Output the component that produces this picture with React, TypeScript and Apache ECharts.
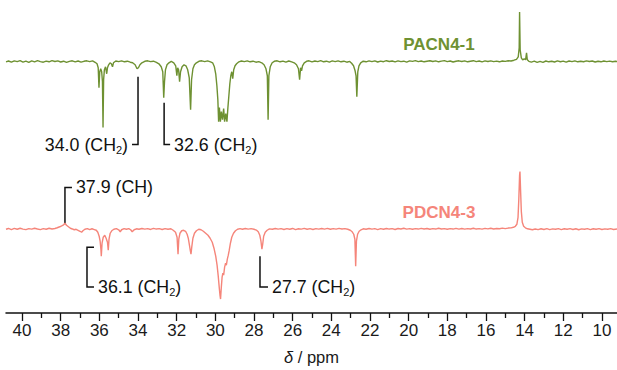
import React, { useEffect, useRef } from "react";
import * as echarts from "echarts";

// ---- data (ppm, intensity relative to each trace's baseline) ----
const pacnTrace: [number, number][] = [
  [40.83, 0], [40.7, 0.8], [40.55, -0.4], [40.4, 1], [40.25, 0.2], [40.1, 1.2], [39.95, -0.3], [39.8, 0.6],
  [39.65, -0.5], [39.5, 0.9], [39.35, 0], [39.2, 1.1], [39.05, 0.2], [38.9, -0.4], [38.75, 0.7], [38.6, 0],
  [38.45, 1.2], [38.3, 0.3], [38.15, 0.9], [38.0, -0.2], [37.85, 0.6], [37.7, -0.6], [37.55, 0.4], [37.4, 1],
  [37.25, 0], [37.1, 0.8], [36.95, -0.3], [36.8, 0.5], [36.65, 1], [36.5, 0.2], [36.35, 0.9], [36.22, -0.5],
  [36.12, -2], [36.06, -6], [36.02, -26], [35.98, -10], [35.93, -7], [35.88, -10], [35.84, -20], [35.81, -66],
  [35.78, -18], [35.74, -8], [35.68, -5], [35.62, -12], [35.58, -6], [35.52, -3], [35.45, -1], [35.38, -2],
  [35.32, -5], [35.27, -1], [35.15, 0.8], [35.0, 0.2], [34.85, 1], [34.7, 0], [34.55, 0.6], [34.4, -0.4],
  [34.28, -1], [34.15, -3], [34.05, -7], [33.98, -6], [33.9, -3], [33.8, -1], [33.65, 0.5], [33.5, 1],
  [33.35, 0.2], [33.2, 0.6], [33.05, -0.5], [32.92, -2], [32.8, -5], [32.72, -10], [32.67, -36], [32.63, -20],
  [32.58, -8], [32.5, -3], [32.4, -1], [32.28, 0.4], [32.15, -1], [32.05, -4], [31.99, -14], [31.95, -6],
  [31.9, -8], [31.85, -20], [31.8, -10], [31.72, -5], [31.62, -3], [31.52, -4], [31.43, -8], [31.35, -16],
  [31.28, -48], [31.23, -18], [31.16, -7], [31.08, -3], [30.98, -1], [30.85, 0.5], [30.7, 1], [30.55, 0.2],
  [30.4, 0.9], [30.25, 0], [30.14, -1], [30.05, -5], [29.98, -12], [29.92, -24], [29.87, -38], [29.83, -60],
  [29.79, -46], [29.74, -60], [29.69, -50], [29.63, -58], [29.57, -47], [29.52, -60], [29.46, -52], [29.4, -60],
  [29.35, -46], [29.3, -34], [29.25, -22], [29.2, -14], [29.15, -10], [29.1, -17], [29.05, -8], [28.98, -4],
  [28.9, -2], [28.78, 0], [28.65, 0.8], [28.5, 0.2], [28.35, 1], [28.2, 0], [28.05, 0.6], [27.9, -0.4],
  [27.75, 0.2], [27.6, -1], [27.48, -3], [27.38, -7], [27.31, -14], [27.27, -58], [27.23, -14], [27.16, -5],
  [27.06, -1], [26.95, 0.5], [26.8, 1], [26.65, 0], [26.5, 0.7], [26.35, -0.3], [26.2, 0.8], [26.05, 0],
  [25.92, -1], [25.8, -3], [25.7, -7], [25.64, -18], [25.59, -6], [25.54, -9], [25.49, -4], [25.4, -1],
  [25.28, 0.5], [25.15, 1], [25.0, 0], [24.85, 0.8], [24.7, 0.2], [24.55, 1.1], [24.4, 0], [24.25, 0.6],
  [24.1, -0.3], [23.95, 0.9], [23.8, 0.2], [23.65, 1], [23.5, 0], [23.35, 0.6], [23.2, -0.4], [23.05, 0.4],
  [22.95, -1.5], [22.85, -4], [22.77, -9], [22.72, -14], [22.68, -35], [22.63, -10], [22.57, -4], [22.48, -1],
  [22.35, 0.6], [22.2, 0], [22.05, 0.9], [21.9, 0.2], [21.75, 1], [21.6, -0.2], [21.45, 0.7], [21.3, 0.1],
  [21.15, 1.1], [21.0, 0.3], [20.85, 0.8], [20.7, 0], [20.55, 1], [20.4, 0.2], [20.25, 0.6], [20.1, -0.3],
  [19.95, 0.9], [19.8, 0.4], [19.65, 1.2], [19.5, 0.2], [19.35, 0.8], [19.2, 0], [19.05, 0.6], [18.9, 1.1],
  [18.75, 0.3], [18.6, 0.9], [18.45, 0], [18.3, 0.7], [18.15, 1.2], [18.0, 0.2], [17.85, 0.8], [17.7, -0.2],
  [17.55, 0.6], [17.4, 1], [17.25, 0.3], [17.1, 0.9], [16.95, 0], [16.8, 0.6], [16.65, 1.1], [16.5, 0.2],
  [16.35, 0.8], [16.2, 0], [16.05, 0.9], [15.9, 0.3], [15.75, 1], [15.6, 0.2], [15.45, 0.7], [15.3, 0],
  [15.15, 0.8], [15.0, 0.4], [14.85, 1], [14.7, 0.8], [14.55, 1.6], [14.42, 2.5], [14.33, 5], [14.28, 14],
  [14.26, 50], [14.23, 12], [14.17, 4], [14.1, 2], [14.02, 3], [13.95, 2], [13.9, 9], [13.86, 2],
  [13.78, 0.5], [13.65, -0.3], [13.5, 0.6], [13.35, -0.6], [13.2, 0.4], [13.05, -0.5], [12.9, 0.8], [12.75, 0],
  [12.6, 0.6], [12.45, -0.2], [12.3, 0.9], [12.15, 0.1], [12.0, 0.7], [11.85, -0.3], [11.7, 0.8], [11.55, 0.2],
  [11.4, 1], [11.25, 0], [11.1, 0.6], [10.95, 0.1], [10.8, 0.9], [10.65, 0.3], [10.5, 0.8], [10.35, -0.2],
  [10.2, 0.6], [10.05, 0], [9.9, 0.8], [9.75, 0.2], [9.6, 0.7], [9.45, 0], [9.3, 0.5], [9.22, 0.3],
];

const pdcnTrace: [number, number][] = [
  [40.83, 0], [40.7, 0.8], [40.55, -0.3], [40.4, 0.9], [40.25, 0], [40.1, 1], [39.95, 0.2], [39.8, -0.4],
  [39.65, 0.7], [39.5, 0.1], [39.35, 1], [39.2, 0.3], [39.05, -0.3], [38.9, 0.6], [38.75, 0], [38.6, 1],
  [38.45, 0.3], [38.3, 0.8], [38.18, 1.5], [38.05, 2.5], [37.95, 3.5], [37.85, 4.5], [37.78, 6], [37.7, 4],
  [37.6, 2.5], [37.5, 1], [37.4, 0.3], [37.3, -0.5], [37.2, 0], [37.1, -1], [37.0, -2], [36.92, -3],
  [36.85, -1.5], [36.75, 0], [36.62, 0.6], [36.5, -0.4], [36.38, 0.5], [36.26, -0.3], [36.16, -1], [36.08, -3],
  [36.01, -7], [35.96, -12], [35.92, -20], [35.9, -27], [35.86, -14], [35.8, -8], [35.72, -6], [35.65, -9],
  [35.58, -13], [35.54, -21], [35.5, -10], [35.44, -4], [35.36, -1.5], [35.25, 0], [35.12, 0.6], [35.0, -0.5],
  [34.92, -2.5], [34.85, -0.5], [34.72, 0.6], [34.6, 0], [34.48, 0.7], [34.38, -0.5], [34.3, -2.5], [34.2, -0.5],
  [34.08, 0.5], [33.95, 0], [33.8, 0.8], [33.65, 0.1], [33.5, 0.7], [33.35, -0.2], [33.2, 0.9], [33.05, 0.2],
  [32.9, 0.6], [32.75, -0.2], [32.6, 0.7], [32.45, 0], [32.3, 0.5], [32.18, -1], [32.06, -3], [31.98, -8],
  [31.93, -25], [31.89, -10], [31.83, -4], [31.74, -1.5], [31.64, -1], [31.54, -2], [31.46, -5], [31.4, -9],
  [31.34, -16], [31.29, -22], [31.26, -25], [31.22, -18], [31.16, -9], [31.08, -4], [30.98, -1.5], [30.86, 0],
  [30.74, -0.5], [30.62, -2], [30.5, -4], [30.38, -6], [30.27, -9], [30.16, -13], [30.07, -19], [29.98, -27],
  [29.91, -36], [29.85, -47], [29.8, -58], [29.76, -66], [29.73, -70], [29.69, -58], [29.65, -48], [29.61, -44],
  [29.57, -46], [29.52, -38], [29.47, -34], [29.43, -36], [29.38, -30], [29.33, -26], [29.28, -21], [29.22, -14],
  [29.15, -8], [29.06, -4], [28.96, -1.5], [28.85, 0], [28.72, 0.6], [28.6, 0], [28.45, 0.8], [28.3, 0.1],
  [28.15, 0.6], [28.0, 0], [27.88, -0.8], [27.78, -2.5], [27.7, -6], [27.64, -12], [27.59, -20], [27.55, -15],
  [27.5, -7], [27.42, -3], [27.32, -1], [27.2, 0.4], [27.05, 0], [26.9, 0.8], [26.75, 0.1], [26.6, 0.7],
  [26.45, -0.2], [26.3, 0.6], [26.15, 0], [26.0, 0.8], [25.85, -0.3], [25.7, 0.5], [25.55, 0.1], [25.4, 0.9],
  [25.25, 0], [25.1, 0.6], [24.95, -0.2], [24.8, 0.7], [24.65, 0.1], [24.5, 0.8], [24.35, 0.2], [24.2, 0.9],
  [24.05, 0], [23.9, 0.6], [23.75, 0.1], [23.6, 0.9], [23.45, 0.3], [23.3, 0.7], [23.15, 0], [23.02, -1],
  [22.92, -2.5], [22.84, -5], [22.78, -10], [22.74, -37], [22.7, -12], [22.64, -5], [22.56, -2], [22.46, -0.5],
  [22.35, 0.5], [22.2, 0], [22.05, 0.8], [21.9, 0.1], [21.75, 0.6], [21.6, -0.3], [21.45, 0.7], [21.3, 0],
  [21.15, 0.8], [21.0, 0.2], [20.85, 0.6], [20.7, -0.2], [20.55, 0.8], [20.4, 0.3], [20.25, 1], [20.1, 0.2],
  [19.95, 0.7], [19.8, 0], [19.65, 0.6], [19.5, 0.2], [19.35, 0.9], [19.2, 0.3], [19.05, 0.8], [18.9, 0],
  [18.75, 0.6], [18.6, 0.2], [18.45, 1], [18.3, 0.3], [18.15, 0.7], [18.0, 0], [17.85, 0.6], [17.7, 0.2],
  [17.55, 0.9], [17.4, 0.2], [17.25, 0.8], [17.1, 0.1], [16.95, 0.7], [16.8, 0.3], [16.65, 1], [16.5, 0.2],
  [16.35, 0.6], [16.2, 0.1], [16.05, 0.9], [15.9, 0.4], [15.75, 1], [15.6, 0.3], [15.45, 0.8], [15.3, 0.5],
  [15.15, 1.1], [15.0, 0.6], [14.85, 1.2], [14.7, 1.4], [14.58, 2], [14.48, 3], [14.4, 5], [14.34, 12],
  [14.3, 30], [14.26, 54], [14.24, 58], [14.21, 40], [14.17, 18], [14.12, 7], [14.05, 3], [13.96, 1.5],
  [13.85, 0.5], [13.72, 0], [13.6, -0.5], [13.45, 0.3], [13.3, -0.4], [13.15, 0.5], [13.0, -0.2], [12.85, 0.6],
  [12.7, -0.4], [12.55, 0.4], [12.4, 0], [12.25, 0.6], [12.1, -0.3], [11.95, 0.5], [11.8, 0], [11.65, 0.6],
  [11.5, -0.2], [11.35, 0.5], [11.2, -0.5], [11.05, 0.4], [10.9, 0], [10.75, 0.6], [10.6, -0.3], [10.45, 0.5],
  [10.3, 0], [10.15, 0.7], [10.0, -0.2], [9.85, 0.4], [9.7, 0], [9.55, 0.6], [9.4, -0.2], [9.22, 0.2],
];

const majorTicks = [40, 38, 36, 34, 32, 30, 28, 26, 24, 22, 20, 18, 16, 14, 12, 10];
const minorTicks = [39, 37, 35, 33, 31, 29, 27, 25, 23, 21, 19, 17, 15, 13, 11];

const sampleNames = ["PACN4-1", "PDCN4-3"];

const annotationPpm = [34.0, 32.65, 37.78, 36.64, 27.69];
const annotationMain = ["34.0 (CH", "32.6 (CH", "37.9 (CH)", "36.1 (CH", "27.7 (CH"];
const annotationSub = ["2", "2", "", "2", "2"];

// ---- layout / style ----
const X_MIN = 9.22;
const X_MAX = 40.83;
const Y_MAX = 314;
const PACN_OFFSET = 252;
const PDCN_OFFSET = 84;
const GREEN = "#6e9132";
const PINK = "#f5857a";
const FONT = '"Liberation Sans", Arial, Helvetica, sans-serif';

const sampleLayout = [
  { ppm: 18.43, y: 269, color: GREEN },
  { ppm: 18.43, y: 101, color: PINK },
];

const annotationLayout = [
  { from: 237, to: 169, hook: -6, both: false },
  { from: 211, to: 169, hook: 6, both: false },
  { from: 89, to: 126, hook: 7, both: false },
  { from: 66, to: 26, hook: 7, both: true },
  { from: 57, to: 26, hook: 8, both: false },
];

export default function App() {
  const ref = useRef<HTMLDivElement>(null);

  useEffect(() => {
    document.body.style.margin = "0";
    const chart = echarts.init(ref.current!, null, { renderer: "svg" });

    const richText = {
      a: { fontSize: 17.8, fontFamily: FONT, fill: "#111", color: "#111", lineHeight: 21 },
      s: { fontSize: 11, fontFamily: FONT, fill: "#111", color: "#111", verticalAlign: "bottom", lineHeight: 21 },
    };

    const option: any = {
      animation: false,
      backgroundColor: "#ffffff",
      grid: { left: 6, right: 0, top: 0, bottom: 370 - Y_MAX, containLabel: false },
      xAxis: [
        {
          type: "value",
          position: "bottom",
          min: X_MIN,
          max: X_MAX,
          inverse: true,
          axisLine: { show: true, lineStyle: { color: "#111", width: 1.5 } },
          axisTick: { show: true, customValues: majorTicks, length: 8, lineStyle: { color: "#111", width: 1.3 } },
          axisLabel: {
            show: true,
            customValues: majorTicks,
            margin: 9,
            fontSize: 17,
            fontFamily: FONT,
            color: "#1a1a1a",
          },
          splitLine: { show: false },
          name: "{i|δ}{n| / ppm}",
          nameLocation: "middle",
          nameGap: 35,
          nameTextStyle: {
            rich: {
              i: { fontSize: 16.5, fontStyle: "italic", fontFamily: FONT, color: "#1a1a1a" },
              n: { fontSize: 16.5, fontFamily: FONT, color: "#1a1a1a" },
            },
          },
        },
        {
          type: "value",
          position: "bottom",
          min: X_MIN,
          max: X_MAX,
          inverse: true,
          axisLine: { show: false },
          axisTick: { show: true, customValues: minorTicks, length: 5, lineStyle: { color: "#111", width: 1.3 } },
          axisLabel: { show: false },
          splitLine: { show: false },
        },
      ],
      yAxis: { type: "value", min: 0, max: Y_MAX, show: false },
      series: [
        {
          type: "line",
          name: sampleNames[0],
          data: pacnTrace.map(([x, v]) => [x, v + PACN_OFFSET]),
          showSymbol: false,
          symbol: "none",
          lineStyle: { color: GREEN, width: 1.4 },
          silent: true,
        },
        {
          type: "line",
          name: sampleNames[1],
          data: pdcnTrace.map(([x, v]) => [x, v + PDCN_OFFSET]),
          showSymbol: false,
          symbol: "none",
          lineStyle: { color: PINK, width: 1.4 },
          silent: true,
        },
        {
          type: "custom",
          clip: false,
          silent: true,
          data: sampleLayout.map((l, i) => [l.ppm, l.y, i]),
          encode: { x: 0, y: 1 },
          renderItem: (_p: any, api: any) => {
            const i = api.value(2);
            const pt = api.coord([api.value(0), api.value(1)]);
            return {
              type: "text",
              x: pt[0],
              y: pt[1],
              style: {
                text: sampleNames[i],
                fill: sampleLayout[i].color,
                font: `bold 17px ${FONT}`,
                align: "center",
                verticalAlign: "middle",
              },
            };
          },
        },
        {
          type: "custom",
          clip: false,
          silent: true,
          data: annotationPpm.map((p, i) => [p, annotationLayout[i].to, i]),
          encode: { x: 0, y: 1 },
          renderItem: (_p: any, api: any) => {
            const i = api.value(2);
            const lay = annotationLayout[i];
            const ppm = api.value(0);
            const a = api.coord([ppm, lay.from]);
            const b = api.coord([ppm, lay.to]);
            const x = a[0];
            const pts = lay.both
              ? [[x + lay.hook, a[1]], [x, a[1]], [x, b[1]], [x + lay.hook, b[1]]]
              : [[x, a[1]], [x, b[1]], [x + lay.hook, b[1]]];
            const sub = annotationSub[i];
            const text = sub
              ? `{a|${annotationMain[i]}}{s|${sub}}{a|)}`
              : `{a|${annotationMain[i]}}`;
            return {
              type: "group",
              children: [
                {
                  type: "polyline",
                  shape: { points: pts },
                  style: { stroke: "#111", lineWidth: 1.5, fill: null },
                },
                {
                  type: "text",
                  x: x + lay.hook + (lay.hook < 0 ? -4 : 4),
                  y: b[1],
                  style: {
                    text,
                    rich: richText,
                    fill: "#111",
                    font: `17.8px ${FONT}`,
                    align: lay.hook < 0 ? "right" : "left",
                    verticalAlign: "middle",
                  },
                },
              ],
            };
          },
        },
      ],
    };

    chart.setOption(option);
    return () => chart.dispose();
  }, []);

  return <div ref={ref} style={{ width: 617, height: 370 }} />;
}
